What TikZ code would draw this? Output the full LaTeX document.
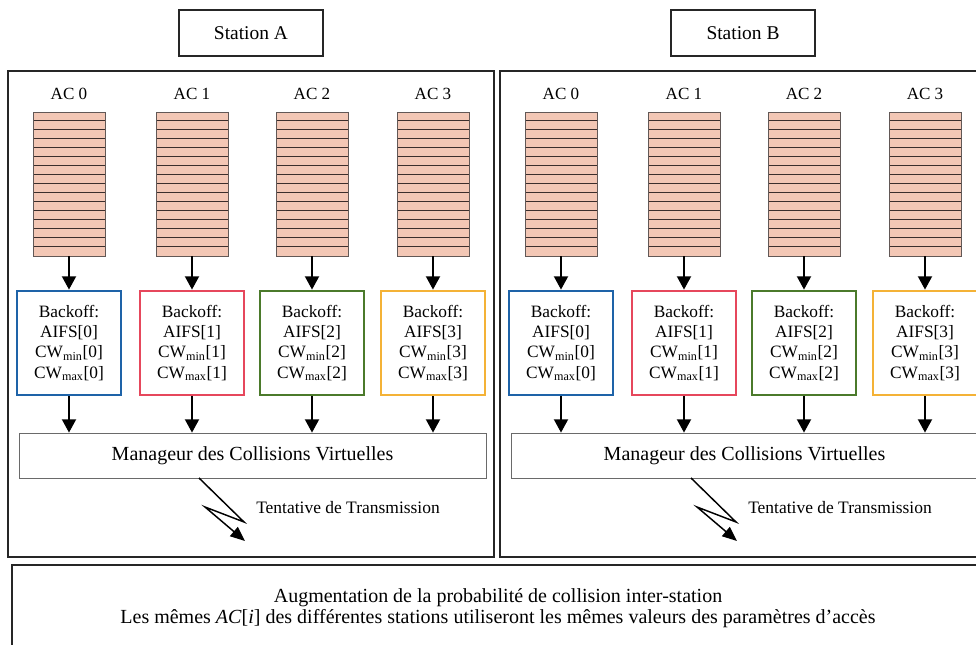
\documentclass[tikz,border=0pt]{standalone}
\usepackage{fontspec}
\setmainfont{Liberation Serif}
\usetikzlibrary{arrows.meta,calc}
\definecolor{acblue}{HTML}{1E63A8}
\definecolor{acred}{HTML}{E6475C}
\definecolor{acgreen}{HTML}{4B7A2B}
\definecolor{acorange}{HTML}{F4B236}
\definecolor{qfill}{HTML}{F3C7B5}
\definecolor{qline}{HTML}{3B2E2C}
\definecolor{mgrline}{HTML}{6A6A6A}
\tikzset{
  frame/.style={draw=black!85, line width=1.5pt},
  stationlbl/.style={draw=black!85, line width=1.2pt, minimum width=108pt, minimum height=34.5pt, inner sep=0pt, font=\fontsize{14.6pt}{17pt}\selectfont},
  aclbl/.style={inner sep=0pt, font=\fontsize{12.8pt}{15pt}\selectfont},
  queue/.style={draw=qline!80, line width=0.6pt, fill=qfill, minimum width=54pt, minimum height=108pt, inner sep=0pt,
    path picture={\foreach \k in {1,...,15}{\draw[qline, line width=0.75pt]
      ($(path picture bounding box.north west)!\k/16!(path picture bounding box.south west)$) --
      ($(path picture bounding box.north east)!\k/16!(path picture bounding box.south east)$);}}},
  backoff/.style={draw=#1, line width=2.1pt, fill=white, minimum width=78pt, minimum height=78pt, inner sep=0pt, align=center,
    font=\fontsize{13pt}{15.2pt}\selectfont},
  mgr/.style={draw=mgrline, line width=0.6pt, minimum width=350.25pt, minimum height=33.75pt, inner sep=0pt, font=\fontsize{15pt}{17pt}\selectfont},
  arr/.style={line width=1.5pt, -{Triangle[width=10.5pt,length=10pt]}},
  bolt/.style={line width=1.1pt, -{Triangle[width=9pt,length=11pt]}},
  txt/.style={inner sep=0pt, font=\fontsize{13.1pt}{15pt}\selectfont},
  bottomtxt/.style={inner sep=0pt, align=center, font=\fontsize{15pt}{15.75pt}\selectfont}
}
\begin{document}
\begin{tikzpicture}[x=0.75pt, y=-0.75pt]
\useasboundingbox (0,0) rectangle (976,645);
\clip (0,0) rectangle (976,645);
\fill[white] (0,0) rectangle (976,645);
\foreach \s/\o in {A/0,B/492}{
  \draw[frame] (\o+8,71) rectangle (\o+494,557);
  \node[stationlbl] (s\s) at (\o+251,33) {Station \s};
  \node[mgr] (m\s) at (\o+252.5,455.5) {Manageur des Collisions Virtuelles};
  \foreach \i/\c/\col in {0/69/acblue,1/192/acred,2/312/acgreen,3/433/acorange}{
    \node[aclbl] (a\s\i) at (\o+\c,94) {AC \i};
    \node[queue] (q\s\i) at (\o+\c,184) {};
    \node[backoff=\col] (b\s\i) at (\o+\c,343) {Backoff:\\AIFS[\i]\\CW\textsubscript{min}[\i]\\CW\textsubscript{max}[\i]};
    \draw[arr] (q\s\i.south) -- (b\s\i.north);
    \draw[arr] (b\s\i.south) -- (b\s\i.south |- m\s.north);
  }
  \coordinate (ls\s) at (\o+199,478);
  \coordinate (le\s) at (\o+245,541);
  \draw[bolt] (ls\s) -- (\o+244,522) -- (\o+205,507) -- (le\s);
  \node[txt] (t\s) at (\o+348,508) {Tentative de Transmission};
}
\draw[frame] (12,565) rectangle (990,660);
\node[bottomtxt] (bt) at (498,608) {Augmentation de la probabilité de collision inter-station\\Les mêmes \textit{AC}[\textit{i}] des différentes stations utiliseront les mêmes valeurs des paramètres d’accès};
\end{tikzpicture}
\end{document}
